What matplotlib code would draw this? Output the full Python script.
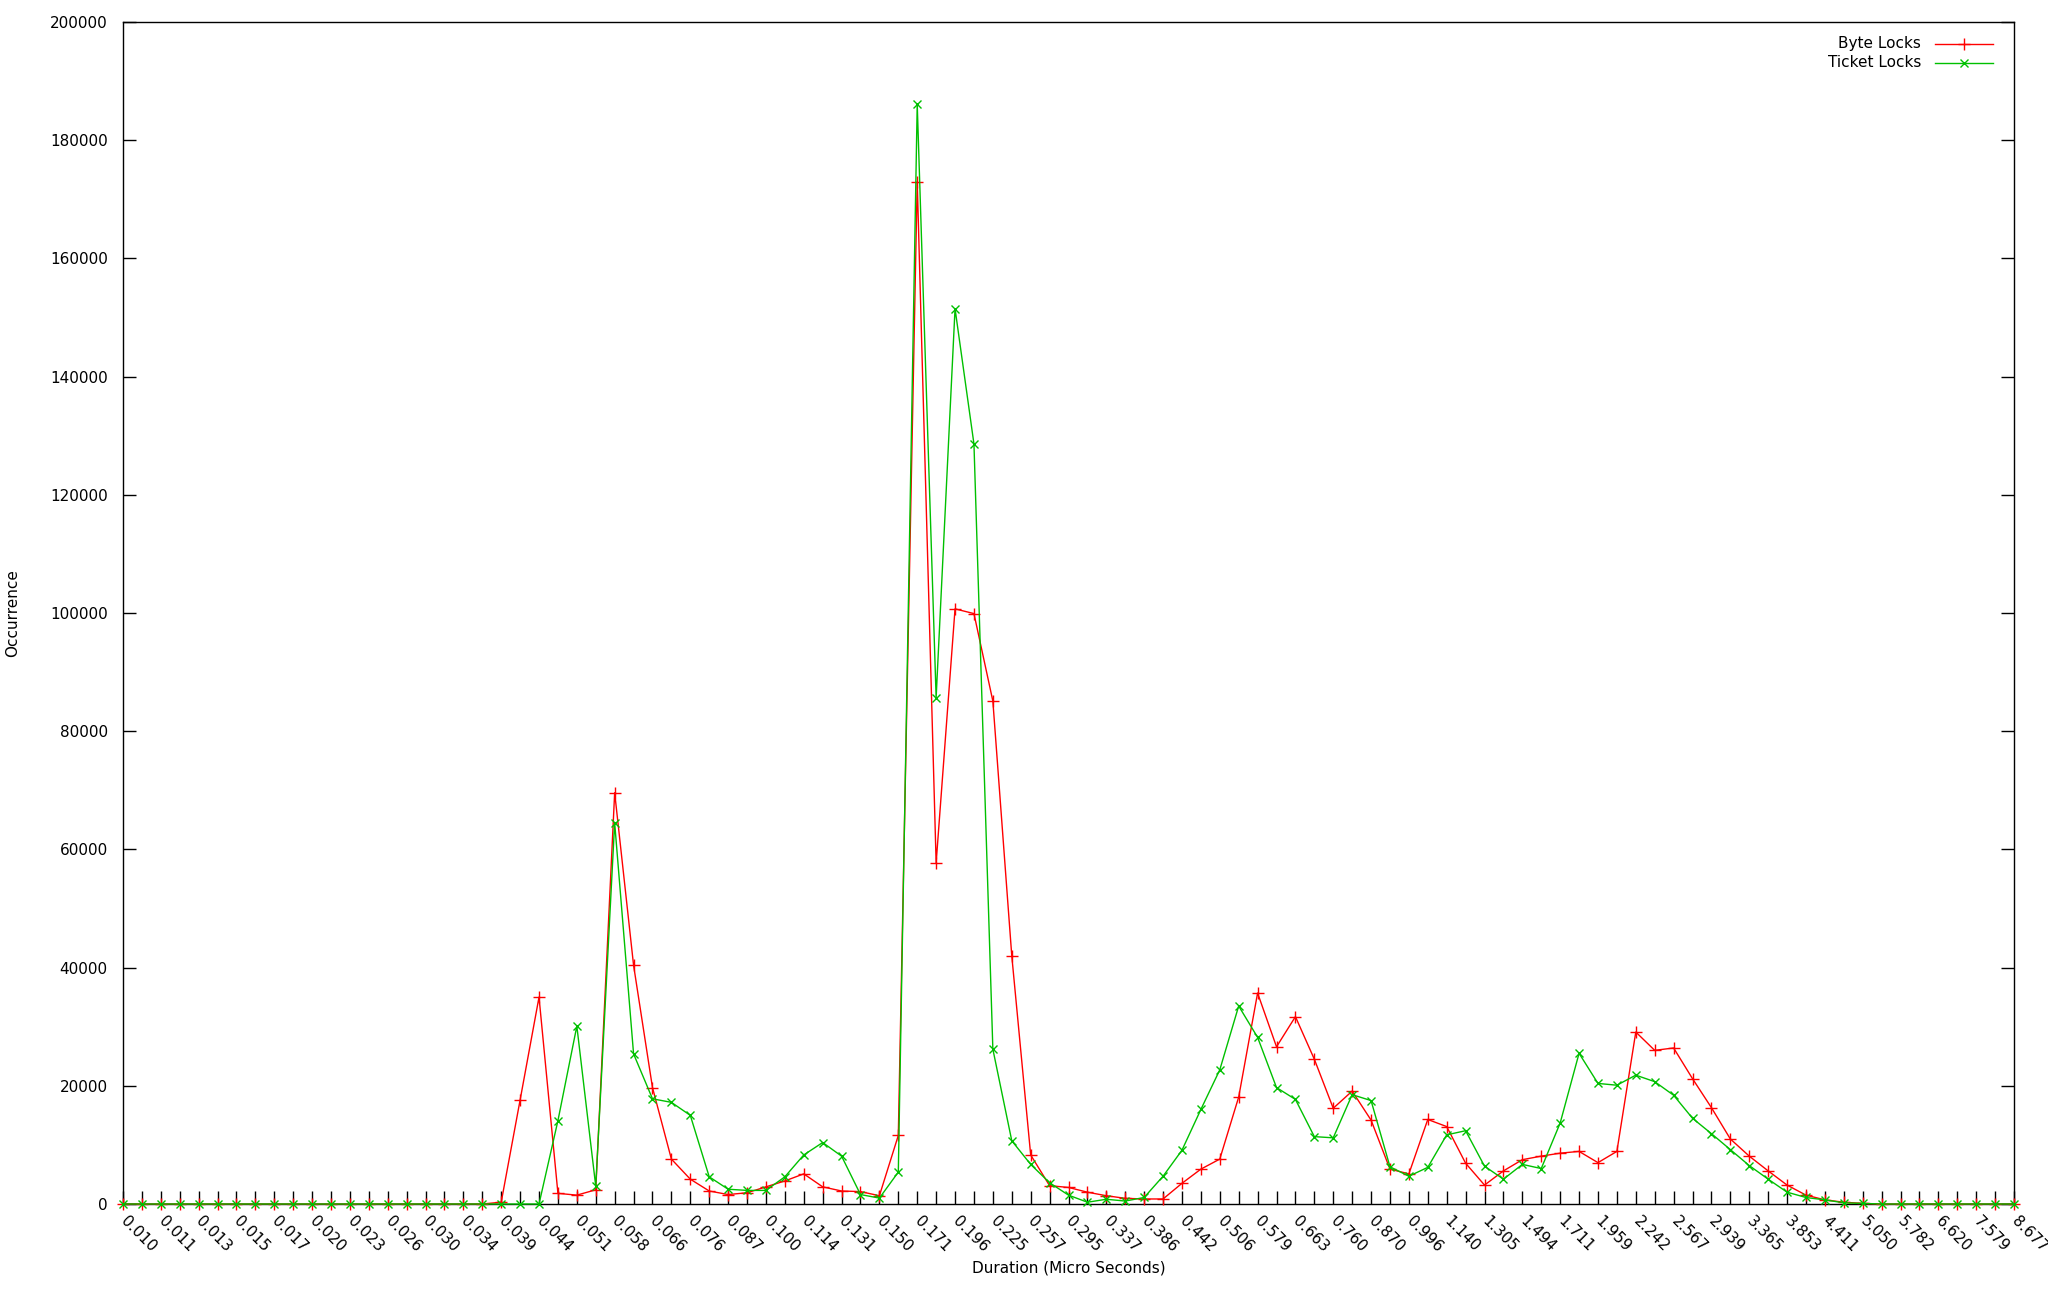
import matplotlib
matplotlib.use("Agg")
import matplotlib.pyplot as plt
from matplotlib.lines import Line2D

plt.rcParams['font.family'] = ['DejaVu Sans']

# === data ===
duration_labels = [
    "0.010", "0.011", "0.013", "0.015", "0.017", "0.020", "0.023", "0.026", "0.030", "0.034",
    "0.039", "0.044", "0.051", "0.058", "0.066", "0.076", "0.087", "0.100", "0.114", "0.131",
    "0.150", "0.171", "0.196", "0.225", "0.257", "0.295", "0.337", "0.386", "0.442", "0.506",
    "0.579", "0.663", "0.760", "0.870", "0.996", "1.140", "1.305", "1.494", "1.711", "1.959",
    "2.242", "2.567", "2.939", "3.365", "3.853", "4.411", "5.050", "5.782", "6.620", "7.579",
    "8.677",
]

byte_locks = [0] * 20 + [
    300, 17600, 35000, 1800, 1500, 2400, 69600, 40400, 19700, 7600,
    4200, 2200, 1600, 1900, 2900, 3900, 5100, 2900, 2200, 2100,
    1400, 11600, 173000, 57700, 100700, 99900, 85100, 42000, 8300, 3100,
    2800, 2000, 1400, 960, 850, 850, 3500, 5900, 7600, 18100,
    35700, 26600, 31700, 24500, 16200, 19100, 14200, 5900, 5100, 14300,
    13100, 6900, 3200, 5600, 7500, 8100, 8600, 8900, 7000, 8900,
    29100, 26000, 26400, 21200, 16300, 11000, 8100, 5600, 3200, 1500,
    700, 300, 100,
] + [0] * 8

ticket_locks = [0] * 23 + [
    14100, 30100, 3000, 64500, 25400, 17800, 17200, 15000, 4600, 2500,
    2300, 2300, 4600, 8300, 10400, 8100, 1600, 1000, 5400, 186100,
    85700, 151500, 128600, 26200, 10700, 6700, 3600, 1500, 300, 800,
    500, 1100, 4700, 9100, 16000, 22700, 33500, 28200, 19700, 17700,
    11400, 11200, 18500, 17500, 6300, 4700, 6200, 11700, 12400, 6400,
    4200, 6700, 6000, 13700, 25500, 20400, 20100, 21800, 20700, 18400,
    14500, 11900, 9200, 6500, 4200, 2000, 1100, 700, 200, 100,
] + [0] * 8

x = list(range(len(byte_locks)))

# === figure ===
fig = plt.figure(figsize=(20.48, 13), dpi=100)
ax = fig.add_axes([123 / 2048, 1 - 1204 / 1300, (2014 - 123) / 2048, (1204 - 22) / 1300])

ax.plot(x, byte_locks, color='#ff0000', lw=1.0, marker='+', markersize=8,
        markeredgewidth=1.0, clip_on=False, zorder=3)
ax.plot(x, ticket_locks, color='#00c000', lw=1.0, marker='x', markersize=6,
        markeredgewidth=1.0, clip_on=False, zorder=3)

ax.set_xlim(0, len(x) - 1)
ax.set_ylim(0, 200000)

# x ticks at every bin, labels on every second one
ax.set_xticks(x)
ax.set_xticklabels([duration_labels[i // 2] if i % 2 == 0 else "" for i in x],
                   rotation=-45, ha='left', va='center', rotation_mode='anchor',
                   fontsize=11)
ax.set_yticks(range(0, 200001, 20000))
ax.set_yticklabels([str(v) for v in range(0, 200001, 20000)], fontsize=11)

ax.tick_params(axis='x', direction='in', length=9.5, width=1.0, pad=11,
               top=False, colors='black')
ax.tick_params(axis='y', direction='in', length=9.5, width=1.0, pad=11,
               right=True, colors='black')
for sp in ax.spines.values():
    sp.set_linewidth(1.0)

# axis titles
fig.text(1068.5 / 2048, 1 - 1268 / 1300, "Duration (Micro Seconds)",
         ha='center', va='center', fontsize=11)
fig.text(13 / 2048, 1 - 613 / 1300, "Occurrence", rotation=90,
         ha='center', va='center', fontsize=11)

# legend like gnuplot: right-aligned text, sample to its right
legend_rows = [("Byte Locks", '#ff0000', '+', 8, 0.9814),
               ("Ticket Locks", '#00c000', 'x', 6, 0.9655)]
for name, col, mk, ms, yy in legend_rows:
    ax.text(0.9508, yy, name, transform=ax.transAxes, ha='right', va='center', fontsize=11)
    ax.add_line(Line2D([0.9582, 0.97355, 0.9889], [yy, yy, yy], transform=ax.transAxes,
                       color=col, lw=1.0, marker=mk, markersize=ms,
                       markeredgewidth=1.0, markevery=[1], clip_on=False))

fig.savefig("out.png", dpi=100)
